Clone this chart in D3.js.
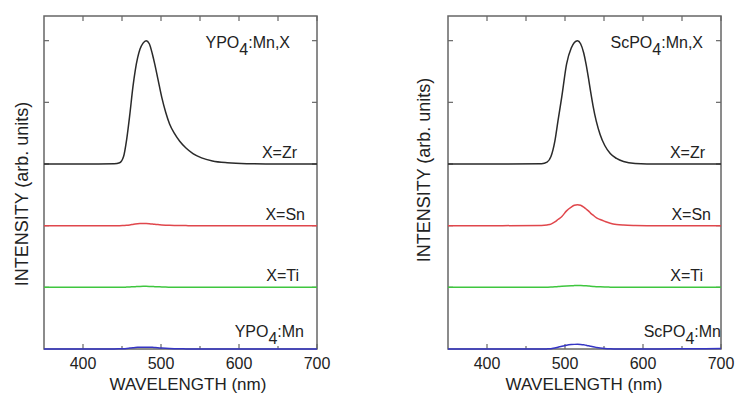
<!DOCTYPE html>
<html>
<head>
<meta charset="utf-8">
<script src="https://cdn.jsdelivr.net/npm/d3@7"></script>
<style>
  body { margin: 0; background: #fff; }
  text { font-family: "Liberation Sans", Arial, sans-serif; fill: #222; }
</style>
</head>
<body>
<svg id="chart" width="737" height="394"></svg>
<script>
// ---- data (intensity above each trace's own baseline, arb. units) ----
const wlY  = [350, 400, 440, 447, 452, 456, 460, 464, 467, 470, 473, 477, 481, 485, 489, 492, 496, 501, 506, 511, 517, 524, 532, 541, 552, 566, 585, 610, 650, 700];
const zrY  = [0, 0, 0.005, 0.02, 0.12, 0.4, 0.8, 1.25, 1.52, 1.72, 1.86, 1.96, 2.0, 1.95, 1.78, 1.62, 1.38, 1.08, 0.84, 0.65, 0.5, 0.37, 0.26, 0.17, 0.1, 0.05, 0.02, 0.005, 0, 0];
const snY  = [0, 0, 0, 0, 0.003, 0.006, 0.012, 0.02, 0.026, 0.031, 0.034, 0.036, 0.035, 0.032, 0.027, 0.022, 0.017, 0.012, 0.008, 0.005, 0.003, 0.002, 0.001, 0, 0, 0, 0, 0, 0, 0];
const tiY  = [0, 0, 0, 0, 0.002, 0.004, 0.006, 0.009, 0.011, 0.013, 0.015, 0.016, 0.016, 0.015, 0.013, 0.011, 0.009, 0.006, 0.004, 0.003, 0.002, 0.001, 0, 0, 0, 0, 0, 0, 0, 0];
const mnY  = [0, 0, 0, 0.003, 0.006, 0.01, 0.015, 0.02, 0.024, 0.027, 0.029, 0.03, 0.03, 0.029, 0.027, 0.024, 0.02, 0.015, 0.011, 0.008, 0.005, 0.003, 0.002, 0, 0, 0, 0, 0, 0, 0];

const wlSc = [350, 420, 470, 477, 482, 487, 491, 496, 502, 508, 512, 516, 520, 524, 527, 530, 533, 536, 540, 545, 551, 558, 566, 575, 590, 620, 660, 700];
const zrSc = [0, 0, 0.005, 0.03, 0.12, 0.37, 0.7, 1.1, 1.62, 1.88, 1.97, 2.0, 1.95, 1.8, 1.62, 1.4, 1.16, 0.94, 0.7, 0.48, 0.3, 0.17, 0.09, 0.04, 0.01, 0, 0, 0];
const snSc = [0, 0, 0.004, 0.012, 0.025, 0.06, 0.1, 0.15, 0.24, 0.3, 0.33, 0.34, 0.33, 0.3, 0.27, 0.24, 0.2, 0.17, 0.13, 0.1, 0.07, 0.04, 0.02, 0.01, 0.004, 0, 0, 0];
const tiSc = [0, 0, 0, 0.002, 0.004, 0.008, 0.012, 0.017, 0.022, 0.026, 0.028, 0.03, 0.029, 0.027, 0.024, 0.021, 0.018, 0.015, 0.011, 0.008, 0.005, 0.003, 0.001, 0, 0, 0, 0, 0];
const mnSc = [0, 0, 0, 0.002, 0.006, 0.015, 0.028, 0.045, 0.062, 0.072, 0.075, 0.076, 0.074, 0.068, 0.06, 0.052, 0.043, 0.035, 0.026, 0.016, 0.008, 0.003, 0, 0, 0, 0, 0.004, 0.008];

const offsets   = [3, 2, 1, 0];
const seriesLbl = ['X=Zr', 'X=Sn', 'X=Ti'];
const colors    = ['#2a2a2a', '#e0474c', '#3fc63f', '#3535c4'];
const xMajor    = [400, 500, 600, 700];
const xMinor    = [450, 550, 650];
const yTicks    = [1, 2, 3, 4, 5];

const panels = [
  { host: 'YPO', wl: wlY, series: [zrY, snY, tiY, mnY], left: 44, right: 317,
    ylabX: 28, ylabY: 194, xlabX: 188,
    lblEnd: [297, 305, 299, 304], titleEnd: 290 },
  { host: 'ScPO', wl: wlSc, series: [zrSc, snSc, tiSc, mnSc], left: 448, right: 721,
    ylabX: 430, ylabY: 170, xlabX: 584,
    lblEnd: [705, 711, 703, 721], titleEnd: 703 }
];

const plotTop = 16, plotBottom = 349;
const svg = d3.select('#chart');

panels.forEach(p => {
  const x = d3.scaleLinear().domain([350, 700]).range([p.left, p.right]);
  const y = d3.scaleLinear().domain([0, 5.4]).range([plotBottom, plotTop]);
  const g = svg.append('g');

  // frame
  g.append('rect')
   .attr('x', p.left).attr('y', plotTop)
   .attr('width', p.right - p.left).attr('height', plotBottom - plotTop)
   .attr('fill', 'none').attr('stroke', '#666').attr('stroke-width', 1.5);

  // inner ticks
  const tk = g.append('g').attr('stroke', '#666').attr('stroke-width', 1.2);
  xMajor.concat(xMinor).forEach(v => {
    const len = xMajor.includes(v) ? 5 : 3;
    tk.append('line').attr('x1', x(v)).attr('x2', x(v)).attr('y1', plotBottom).attr('y2', plotBottom - len);
    tk.append('line').attr('x1', x(v)).attr('x2', x(v)).attr('y1', plotTop).attr('y2', plotTop + 5);
  });
  yTicks.forEach(v => {
    tk.append('line').attr('x1', p.left).attr('x2', p.left + 5).attr('y1', y(v)).attr('y2', y(v));
    tk.append('line').attr('x1', p.right).attr('x2', p.right - 5).attr('y1', y(v)).attr('y2', y(v));
  });

  g.selectAll('.xl')
   .data(xMajor)
   .enter().append('text')
   .attr('x', d => x(d)).attr('y', 369)
   .attr('text-anchor', 'middle').attr('font-size', 16)
   .text(d => d);

  // spectra
  const line = d3.line()
                 .x(d => x(d[0]))
                 .y(d => y(d[1]))
                 .curve(d3.curveMonotoneX);
  p.series.forEach((s, i) => {
    const pts = p.wl.map((w, j) => [w, s[j] + offsets[i]]);
    g.append('path')
     .attr('d', line(pts))
     .attr('fill', 'none')
     .attr('stroke', colors[i])
     .attr('stroke-width', 1.5);
  });

  // trace labels
  seriesLbl.forEach((t, i) => {
    g.append('text')
     .attr('x', p.lblEnd[i]).attr('y', y(offsets[i]) - 6)
     .attr('text-anchor', 'end').attr('font-size', 16)
     .text(t);
  });
  const sub = (xe, yb, tail) => {
    const t = g.append('text').attr('x', xe).attr('y', yb)
               .attr('text-anchor', 'end').attr('font-size', 16);
    t.append('tspan').text(p.host);
    t.append('tspan').attr('dy', 7).text('4');
    t.append('tspan').attr('dy', -7).text(tail);
  };
  sub(p.titleEnd, 48, ':Mn,X');
  sub(p.lblEnd[3], 337, ':Mn');

  // axis titles
  g.append('text')
   .attr('x', p.xlabX).attr('y', 390)
   .attr('text-anchor', 'middle').attr('font-size', 17)
   .text('WAVELENGTH (nm)');
  g.append('text')
   .attr('transform', `translate(${p.ylabX},${p.ylabY}) rotate(-90)`)
   .attr('text-anchor', 'middle').attr('font-size', 18)
   .text('INTENSITY (arb. units)');
});
</script>
</body>
</html>
